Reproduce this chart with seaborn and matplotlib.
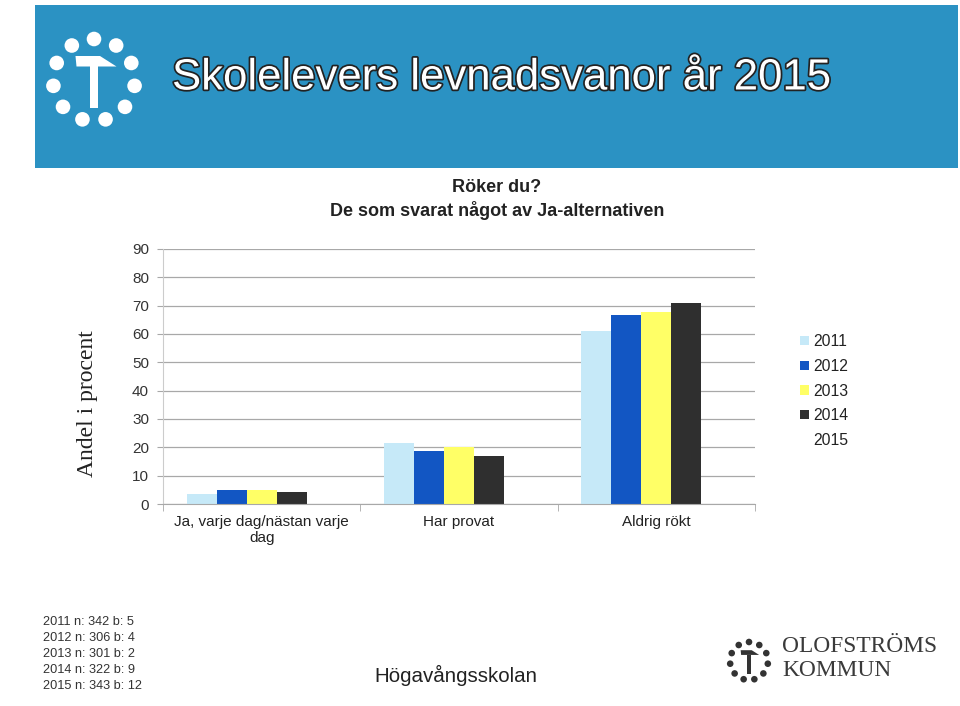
import numpy as np
import pandas as pd
import matplotlib
matplotlib.use("Agg")
import matplotlib.pyplot as plt
import seaborn as sns
from matplotlib.patches import Rectangle, Circle, Polygon
import matplotlib.patheffects as pe

# ---------------- data ----------------
categories = ["Ja, varje dag/nästan varje\ndag", "Har provat", "Aldrig rökt"]
years = ["2011", "2012", "2013", "2014", "2015"]
v2011 = [3.5, 21.4, 60.9]
v2012 = [4.8, 18.6, 66.6]
v2013 = [4.8, 20.0, 67.9]
v2014 = [4.2, 16.9, 70.8]
v2015 = [np.nan, np.nan, np.nan]
colors = ["#c6e9f8", "#1256c3", "#ffff66", "#2f2f2f", "#ffffff"]
yticks = [0, 10, 20, 30, 40, 50, 60, 70, 80, 90]
footer_lines = ["2011 n: 342 b: 5", "2012 n: 306 b: 4", "2013 n: 301 b: 2",
                "2014 n: 322 b: 9", "2015 n: 343 b: 12"]

series = {"2011": v2011, "2012": v2012, "2013": v2013, "2014": v2014, "2015": v2015}
rows = []
for y in years:
    for c, v in zip(categories, series[y]):
        rows.append({"cat": c, "year": y, "val": v})
df = pd.DataFrame(rows)

plt.rcParams["font.family"] = ["Liberation Sans", "DejaVu Sans"]

W, H = 960, 706
fig = plt.figure(figsize=(W / 100, H / 100), dpi=100)
fig.patch.set_facecolor("white")

# ---------------- decorative overlay (pixel coordinates) ----------------
ov = fig.add_axes([0, 0, 1, 1])
ov.set_xlim(0, W)
ov.set_ylim(H, 0)
ov.axis("off")
ov.patch.set_alpha(0)

ov.add_patch(Rectangle((35, 5), 923, 163, facecolor="#2b92c3", edgecolor="none"))


def draw_logo(axo, cx, cy, r, dot_r, color, hammer_scale):
    for k in range(11):
        a = np.deg2rad(90 + k * 360 / 11)
        axo.add_patch(Circle((cx + r * np.cos(a), cy - r * np.sin(a)), dot_r,
                             facecolor=color, edgecolor="none"))
    s = hammer_scale
    head = [(-18.5, -24), (6, -24), (22.5, -13.5), (-17.5, -13.5)]
    axo.add_patch(Polygon([(cx + x * s, cy + y * s) for x, y in head],
                          closed=True, facecolor=color, edgecolor="none"))
    stem = [(-4, -14), (4, -14), (4, 28), (-4, 28)]
    axo.add_patch(Polygon([(cx + x * s, cy + y * s) for x, y in stem],
                          closed=True, facecolor=color, edgecolor="none"))


draw_logo(ov, 94, 80, 41, 7.3, "white", 1.0)

ov.text(172, 78, "Skolelevers levnadsvanor år 2015", fontsize=31.5, color="white",
        ha="left", va="center",
        path_effects=[pe.withStroke(linewidth=2.5, foreground="#222222")])

ov.text(497, 188, "Röker du?", fontsize=13, fontweight="bold", ha="center",
        va="center", color="#222222")
ov.text(497, 211, "De som svarat något av Ja-alternativen", fontsize=13,
        fontweight="bold", ha="center", va="center", color="#222222")

ov.text(88, 404, "Andel i procent", fontsize=17, rotation=90, ha="center",
        va="center", color="#222222", family=["Liberation Serif", "DejaVu Serif"])

for i, line in enumerate(footer_lines):
    ov.text(43, 622 + i * 16, line, fontsize=9.2, ha="left", va="center",
            color="#333333")

ov.text(456, 675, "Högavångsskolan", fontsize=14.8, ha="center", va="center",
        color="#222222")

draw_logo(ov, 749, 661, 19, 3.3, "#333333", 0.45)
ov.text(782, 647, "OLOFSTRÖMS", fontsize=16.8, ha="left", va="center",
        color="#3a3a3a", family=["Liberation Serif", "DejaVu Serif"])
ov.text(782, 671, "KOMMUN", fontsize=16.8, ha="left", va="center",
        color="#3a3a3a", family=["Liberation Serif", "DejaVu Serif"])

# ---------------- chart ----------------
left, right, top, bottom = 163, 755, 249, 504
ax = fig.add_axes([left / W, 1 - bottom / H, (right - left) / W, (bottom - top) / H])
ax.patch.set_alpha(0)

sns.barplot(data=df, x="cat", y="val", hue="year", order=categories,
            hue_order=years, palette=dict(zip(years, colors)), width=0.76,
            saturation=1, edgecolor="none", linewidth=0, legend=False, ax=ax)

ax.set_ylim(0, 90)
ax.set_xlim(-0.5, 2.5)
ax.set_yticks(yticks)
ax.set_yticklabels([str(t) for t in yticks])
ax.set_xlabel("")
ax.set_ylabel("")
ax.yaxis.grid(True, color="#a8a8a8", linewidth=0.9)
ax.set_axisbelow(True)
ax.tick_params(axis="y", length=4, color="#a8a8a8", labelsize=11,
               labelcolor="#333333", pad=6)
ax.tick_params(axis="x", which="major", length=0, labelsize=11,
               labelcolor="#222222", pad=8)
ax.set_xticks([-0.5, 0.5, 1.5, 2.5], minor=True)
ax.tick_params(axis="x", which="minor", length=5, color="#a8a8a8")
for s in ["top", "right"]:
    ax.spines[s].set_visible(False)
ax.spines["left"].set_color("#cccccc")
ax.spines["bottom"].set_color("#a8a8a8")

handles = [Rectangle((0, 0), 1, 1, facecolor=c, edgecolor="none") for c in colors]
fig.legend(handles, years, loc="upper left",
           bbox_to_anchor=(786 / W, 1 - 320 / H), frameon=False, fontsize=11.3,
           handlelength=0.55, handleheight=0.55, handletextpad=0.3,
           labelspacing=0.62, labelcolor="#222222")

fig.savefig("out.png", dpi=100, facecolor="white")
